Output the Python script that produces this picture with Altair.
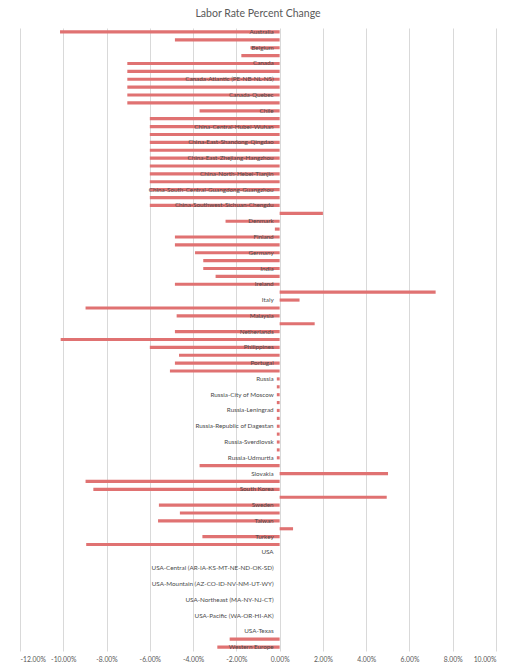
import altair as alt
import pandas as pd

categories = [
    "Australia", "Austria", "Belgium", "Brazil", "Canada", "Canada-Alberta",
    "Canada-Atlantic (PE-NB-NL-NS)", "Canada-Ontario", "Canada-Quebec", "Canada-Western",
    "Chile", "China", "China-Central-Hubei-Wuhan", "China-East-Jiangsu-Suzhou",
    "China-East-Shandong-Qingdao", "China-East-Shanghai", "China-East-Zhejiang-Hangzhou",
    "China-North-Beijing", "China-North-Hebei-Tianjin", "China-Northeast-Liaoning-Shenyang",
    "China-South-Central-Guangdong-Guangzhou", "China-South-Central-Guangdong-Shenzhen",
    "China-Southwest-Sichuan-Chengdu", "Czech Republic", "Denmark", "Europe", "Finland",
    "France", "Germany", "Hungary", "India", "Indonesia", "Ireland", "Israel", "Italy",
    "Japan", "Malaysia", "Mexico", "Netherlands", "New Zealand", "Philippines", "Poland",
    "Portugal", "Romania", "Russia", "Russia-Central", "Russia-City of Moscow",
    "Russia-Krasnodar", "Russia-Leningrad", "Russia-Moscow Oblast",
    "Russia-Republic of Dagestan", "Russia-Republic of Tatarstan", "Russia-Sverdlovsk",
    "Russia-Tyumen", "Russia-Udmurtia", "Singapore", "Slovakia", "Slovenia", "South Korea",
    "Spain", "Sweden", "Switzerland", "Taiwan", "Thailand", "Turkey", "United Kingdom",
    "USA", "USA-California", "USA-Central (AR-IA-KS-MT-NE-ND-OK-SD)", "USA-Midwest",
    "USA-Mountain (AZ-CO-ID-NV-NM-UT-WY)", "USA-New England", "USA-Northeast (MA-NY-NJ-CT)",
    "USA-Northwest", "USA-Pacific (WA-OR-HI-AK)", "USA-Southeast", "USA-Texas", "Vietnam",
    "Western Europe",
]

# percent change (in %)
values = [
    -10.15, -4.84, -1.35, -1.77, -7.04, -7.04,
    -7.04, -7.04, -7.04, -7.04,
    -3.70, -6.00, -6.00, -6.00,
    -6.00, -6.00, -6.00,
    -6.00, -6.00, -6.00,
    -6.00, -6.00,
    -6.00, 2.00, -2.50, -0.22, -4.84,
    -4.84, -3.91, -3.53, -3.53, -2.96, -4.84, 7.21, 0.92,
    -8.97, -4.76, 1.62, -4.84, -10.12, -6.00, -4.65,
    -4.84, -5.07, -0.13, -0.13, -0.13,
    -0.13, -0.13, -0.13,
    -0.13, -0.13, -0.13,
    -0.13, -0.13, -3.70, 5.01, -8.97, -8.61,
    4.95, -5.58, -4.61, -5.62, 0.62, -3.57, -8.94,
    0.0, 0.0, 0.0, 0.0,
    0.0, 0.0, 0.0,
    0.0, 0.0, 0.0, 0.0, -2.31,
    -2.88,
]

shown_labels = categories[::2]
x_ticks = [-12, -10, -8, -6, -4, -2, 0, 2, 4, 6, 8, 10]

df = pd.DataFrame({
    "category": categories,
    "value": [v / 100 for v in values],
    "label": [c if c in shown_labels else "" for c in categories],
    "zero": [0.0] * len(categories),
})

y_enc = alt.Y(
    "category:N",
    sort=categories,
    axis=None,
    scale=alt.Scale(paddingInner=0.6, paddingOuter=0.3),
)
x_scale = alt.Scale(domain=[-0.12, 0.10], nice=False, zero=False)
x_axis = alt.Axis(
    values=[t / 100 for t in x_ticks],
    labelExpr="(datum.value < 0 ? '-' : '') + format(abs(datum.value), '.2%')",
    title=None,
    ticks=False,
    domain=False,
    grid=True,
    gridColor="#d9d9d9",
    gridWidth=1,
    labelFont="Lato",
    labelFontSize=6.8,
    labelColor="#595959",
    labelPadding=5,
)

bars = alt.Chart(df).mark_bar(color="#E07272").encode(
    x=alt.X("value:Q", scale=x_scale, axis=x_axis),
    x2=alt.X2("zero"),
    y=y_enc,
)

labels = alt.Chart(df).transform_filter("datum.label != ''").mark_text(
    align="right", baseline="middle", dx=-6, font="Lato", fontSize=6.3, color="#4a4a4a"
).encode(
    x=alt.X("zero:Q", scale=x_scale),
    y=y_enc,
    text="label:N",
)

chart = alt.layer(bars, labels).properties(
    width=476,
    height=623,
    padding={"left": 12, "top": 20, "right": 10, "bottom": 14},
    autosize=alt.AutoSizeParams(type="none"),
    title=alt.Title(
        "Labor Rate Percent Change",
        font="Lato",
        fontSize=10.5,
        fontWeight="normal",
        color="#595959",
        anchor="middle",
        offset=9,
    ),
).configure_view(stroke=None)

chart.save("out.html", embed_options={"renderer": "svg", "actions": False})
